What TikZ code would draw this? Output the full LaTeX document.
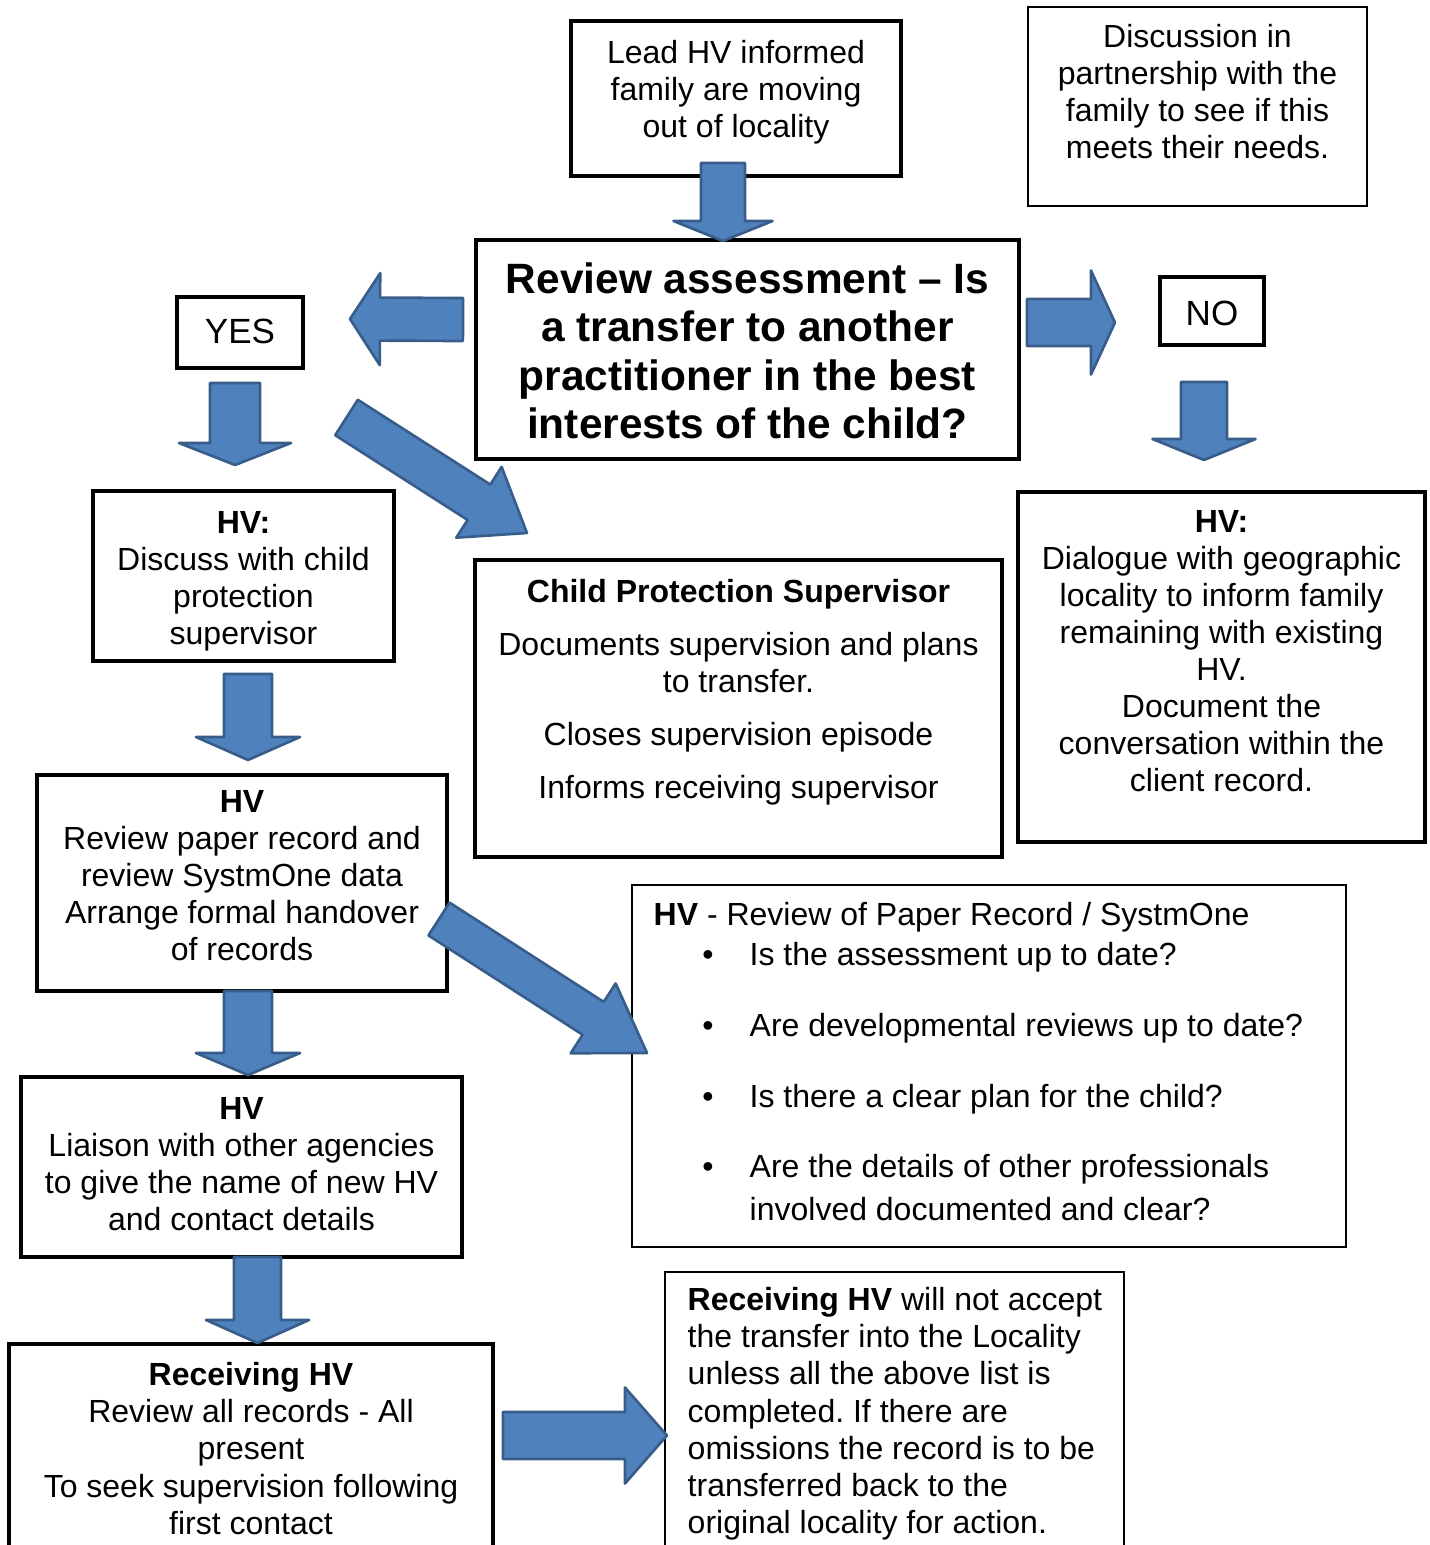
\documentclass[tikz,border=0pt]{standalone}
\usepackage{fontspec}
\setmainfont{Liberation Sans}
\usepackage{tikz}
\usepackage{xcolor}
\usetikzlibrary{calc, positioning, fit}
\definecolor{hvblue}{HTML}{4F81BD}
\definecolor{hvnavy}{HTML}{385D8A}
\frenchspacing
\newcommand{\hvfont}{\fontsize{9.1pt}{10.53pt}\selectfont}
\newcommand{\hvbig}{\fontsize{9.96pt}{12pt}\selectfont}
\newcommand{\hvtitle}{\fontsize{12.06pt}{13.83pt}\selectfont\bfseries}
\newcommand{\hvlist}{\fontsize{9.1pt}{12.23pt}\selectfont}
% block arrow: tail, tip, shaft half width, head half width, head length
\newcommand{\blockarrow}[5]{%
    \coordinate (ba-h) at ($(#2)!#5!(#1)$);
    \draw [ar] ($(#1)!#3!90:(#2)$) -- ($(ba-h)!#3!90:(#2)$) -- ($(ba-h)!#4!90:(#2)$) -- (#2) --
        ($(ba-h)!#4!-90:(#2)$) -- ($(ba-h)!#3!-90:(#2)$) -- ($(#1)!#3!-90:(#2)$) -- cycle;
}

\begin{document}
\begin{tikzpicture}[x=0.01cm, y=-0.01cm]%{{{
        \useasboundingbox (0,0) rectangle (1429,1545);
        \clip (0,0) rectangle (1429,1545);

        \tikzstyle{b} = [draw, line width=1pt, inner sep=0pt, outer sep=0pt];
        \tikzstyle{bl} = [b, line width=0.45pt];
        \tikzstyle{t} = [anchor=north, align=center, inner sep=0pt, font=\hvfont];
        \tikzstyle{tl} = [anchor=north west, align=left, inner sep=0pt, font=\hvfont];
        \tikzstyle{ar} = [draw=hvnavy, fill=hvblue, line width=0.75pt, line join=round];

        % boxes
        \node [b, fit={(571,21) (901,176)}] (lead) {};
        \node [bl, fit={(1028,7) (1367,206)}] (disc) {};
        \node [b, fit={(476,240) (1019,459)}] (review) {};
        \node [b, fit={(177,297) (303,368)}] (yes) {};
        \node [b, fit={(1160,277) (1264,345)}] (no) {};
        \node [b, fit={(93,491) (394,661)}] (hvdisc) {};
        \node [b, fit={(475,560) (1002,857)}] (cps) {};
        \node [b, fit={(1018,492) (1425,842)}] (hvdial) {};
        \node [b, fit={(37,775) (447,991)}] (hvrev) {};
        \node [bl, fit={(632,885) (1346,1247)}] (paper) {};
        \node [b, fit={(21,1077) (462,1257)}] (liaise) {};
        \node [b, fit={(9,1344) (493,1600)}] (recv) {};
        \node [bl, fit={(665,1272) (1124,1600)}] (accept) {};

        % texts
        \node [anchor=base, inner sep=0pt, font=\hvbig] (yes-t) at ($(yes.center)+(0,10.5)$) {YES};
        \node [anchor=base, inner sep=0pt, font=\hvbig] (no-t) at ($(no.center)+(0,14)$) {NO};
        \node [t] (lead-t) at ($(lead.north)+(0,19)$) {Lead HV informed\\family are moving\\out of locality};
        \node [t] (disc-t) at ($(disc.north)+(0,17)$) {Discussion in\\partnership with the\\family to see if this\\meets their needs.};
        \node [t, font=\hvtitle] (review-t) at ($(review.north)+(0,21.6)$)
            {Review assessment – Is\\a transfer to another\\practitioner in the best\\interests of the child?};
        \node [t] (hvdisc-t) at ($(hvdisc.north)+(0,20)$) {\textbf{HV:}\\Discuss with child\\protection\\supervisor};
        \node [t] (cps-t) at ($(cps.north)+(0,19)$)
            {\textbf{Child Protection Supervisor}\\[4.3pt]Documents supervision and plans\\to transfer.\\[4.8pt]Closes supervision episode\\[4.3pt]Informs receiving supervisor};
        \node [t] (hvdial-t) at ($(hvdial.north)+(0,18)$)
            {\textbf{HV:}\\Dialogue with geographic\\locality to inform family\\remaining with existing\\HV.\\Document the\\conversation within the\\client record.};
        \node [t] (hvrev-t) at ($(hvrev.north)+(0,15)$)
            {\textbf{HV}\\Review paper record and\\review SystmOne data\\Arrange formal handover\\of records};
        \node [t] (liaise-t) at ($(liaise.north)+(0,20)$)
            {\textbf{HV}\\Liaison with other agencies\\to give the name of new HV\\and contact details};
        \node [t] (recv-t) at ($(recv.north)+(0,18)$)
            {\textbf{Receiving HV}\\Review all records - All\\present\\To seek supervision following\\first contact};
        \node [tl] (accept-t) at ($(accept.north west)+(22,15)$)
            {\textbf{Receiving HV} will not accept\\the transfer into the Locality\\unless all the above list is\\completed. If there are\\omissions the record is to be\\transferred back to the\\original locality for action.};

        \node [tl, anchor=base west] (paper-t) at ($(paper.north west)+(21,40)$) {\textbf{HV} - Review of Paper Record / SystmOne};
        \foreach \i/\dy/\q in {1/80/Is the assessment up to date?, 2/151/Are developmental reviews up to date?,
                3/222/Is there a clear plan for the child?, 4/292/{Are the details of other professionals\\involved documented and clear?}}{
            \node [anchor=base, inner sep=0pt, font=\hvfont] (paper-b\i) at ($(paper.north west)+(76,\dy)$) {•};
            \node [tl, font=\hvlist] (paper-q\i) at ($(paper.north west)+(117,\dy-23)$) {\q};
        }

        % arrow ends
        \coordinate (lead-out) at ($(lead.south)+(-13,-13)$);
        \coordinate (review-in) at ($(review.north)+(-24.5,1)$);
        \coordinate (review-yes) at ($(review.west)+(-13,-30)$);
        \coordinate (yes-in) at ($(yes.east)+(47,-13.5)$);
        \coordinate (review-no) at ($(review.east)+(8,-27)$);
        \coordinate (no-in) at ($(no.west)+(-45,11.5)$);
        \coordinate (yes-out) at ($(yes.south)+(-5,15)$);
        \coordinate (hvdisc-in) at ($(hvdisc.north)+(-8.5,-26)$);
        \coordinate (no-out) at ($(no.south)+(-8,37)$);
        \coordinate (hvdial-in) at ($(hvdial.north)+(-17.5,-32)$);
        \coordinate (yes-cps) at ($(review.west)+(-129.5,68)$);
        \coordinate (cps-in) at ($(cps.north west)+(52,-27)$);
        \coordinate (hvdisc-out) at ($(hvdisc.south)+(4.5,13)$);
        \coordinate (hvrev-in) at ($(hvrev.north)+(6,-15)$);
        \coordinate (hvrev-out) at ($(hvrev.south)+(6,0)$);
        \coordinate (liaise-in) at ($(liaise.north)+(6.5,-2)$);
        \coordinate (hvrev-paper) at ($(hvrev.east)+(-8,36)$);
        \coordinate (paper-in) at ($(paper.west)+(15,-13)$);
        \coordinate (liaise-out) at ($(liaise.south)+(16,0)$);
        \coordinate (recv-in) at ($(recv.north)+(6.5,-1)$);
        \coordinate (recv-out) at ($(recv.north east)+(10,91.5)$);
        \coordinate (accept-in) at ($(accept.north west)+(2,163.5)$);

        % arrows
        \blockarrow{lead-out}{review-in}{0.22cm}{0.495cm}{0.2cm}
        \blockarrow{review-yes}{yes-in}{0.215cm}{0.46cm}{0.3cm}
        \blockarrow{review-no}{no-in}{0.235cm}{0.52cm}{0.24cm}
        \blockarrow{yes-out}{hvdisc-in}{0.25cm}{0.56cm}{0.22cm}
        \blockarrow{no-out}{hvdial-in}{0.23cm}{0.515cm}{0.21cm}
        \blockarrow{yes-cps}{cps-in}{0.21cm}{0.42cm}{0.57cm}
        \blockarrow{hvdisc-out}{hvrev-in}{0.24cm}{0.52cm}{0.23cm}
        \blockarrow{hvrev-out}{liaise-in}{0.24cm}{0.52cm}{0.22cm}
        \blockarrow{hvrev-paper}{paper-in}{0.195cm}{0.415cm}{0.64cm}
        \blockarrow{liaise-out}{recv-in}{0.235cm}{0.515cm}{0.23cm}
        \blockarrow{recv-out}{accept-in}{0.235cm}{0.48cm}{0.42cm}
    \end{tikzpicture}
\end{document}
